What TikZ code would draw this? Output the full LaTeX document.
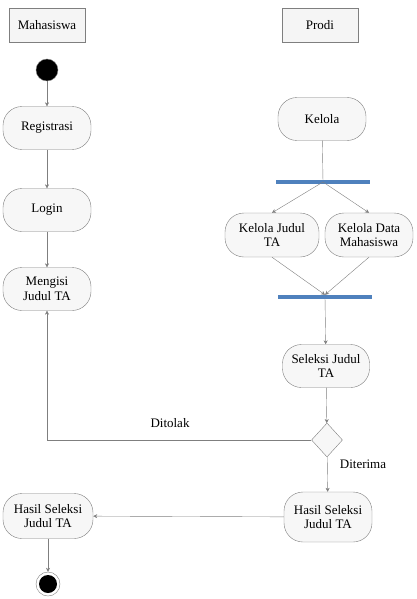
\documentclass[tikz,border=0pt]{standalone}
\usepackage{fontspec}
\setmainfont{Liberation Serif}
\usetikzlibrary{arrows.meta,shapes.geometric}
\definecolor{garis}{HTML}{7F7F7F}
\definecolor{batang}{HTML}{4F81BD}
\tikzset{
  lane/.style={draw=garis,fill=gray!8,minimum width=76pt,minimum height=34pt,inner sep=1pt,font=\fontsize{13}{14}\selectfont},
  aksi/.style={draw=garis,fill=gray!6,rounded corners=19pt,minimum width=88pt,minimum height=43pt,align=center,inner sep=1pt,font=\fontsize{13}{14.5}\selectfont},
  batang/.style={fill=batang,minimum height=4pt,inner sep=0pt},
  panah/.style={draw=garis,-{Stealth[length=4pt,width=4pt]}},
  garis/.style={draw=garis},
  label/.style={font=\fontsize{13}{14}\selectfont}
}
\begin{document}
\begin{tikzpicture}[x=1pt,y=-1pt]
        \useasboundingbox (0,0) rectangle (416,599);

        % 泳道
        \node[lane] (mhs) at (47,25) {Mahasiswa};
        \node[lane] (prodi) at (320,25) {Prodi};

        % 起点
        \node[circle,fill=black,draw=garis,minimum size=22pt,inner sep=0pt] (mulai) at (47,70) {};

        % 活动
        \node[aksi] (registrasi) at (47,128) {Registrasi};
        \node[aksi] (login) at (47,210) {Login};
        \node[aksi] (mengisi) at (47,289) {Mengisi\\Judul TA};
        \node[aksi] (kelola) at (322,119) {Kelola};
        \node[aksi,minimum width=94pt,minimum height=44pt] (kjudul) at (272,235) {Kelola Judul\\TA};
        \node[aksi,minimum height=44pt] (kdata) at (369,235) {Kelola Data\\Mahasiswa};
        \node[aksi,minimum width=87pt] (seleksi) at (326,366) {Seleksi Judul\\TA};
        \node[aksi,minimum height=50pt] (hasilp) at (328,517) {Hasil Seleksi\\Judul TA};
        \node[aksi,minimum width=90pt,minimum height=45pt] (hasilm) at (48,516) {Hasil Seleksi\\Judul TA};

        % 分叉和汇合
        \node[batang,minimum width=94pt] (fork) at (323,182) {};
        \node[batang,minimum width=94pt] (join) at (325,297) {};

        % 判断
        \node[diamond,draw=garis,fill=gray!6,minimum width=31pt,minimum height=34pt,inner sep=0pt] (cek) at (327,440) {};

        % 终点
        \node[circle,draw=garis,fill=white,minimum size=24pt,inner sep=0pt,
              path picture={\fill[black] (path picture bounding box.center) circle (9pt);}] (selesai) at (48,584) {};

        % 连线
        \draw[panah] (mulai) -- (registrasi);
        \draw[panah] (registrasi) -- (login);
        \draw[panah] (login) -- (mengisi);
        \draw[garis] (kelola) -- (fork);
        \draw[panah] (fork.center) -- (kjudul.north);
        \draw[panah] (fork.center) -- (kdata.north);
        \draw[panah] (kjudul.south) -- (join.north);
        \draw[panah] (kdata.south) -- (join.north);
        \draw[panah] (join) -- (seleksi);
        \draw[panah] (seleksi) -- (cek);
        \draw[panah] (cek) -- (hasilp);
        \draw[panah] (cek.west) -| (mengisi.south);
        \draw[panah] (hasilp) -- (hasilm);
        \draw[panah] (hasilm) -- (selesai);

        % 标签
        \node[label] (ditolak) at (170,423) {Ditolak};
        \node[label] (diterima) at (363,464) {Diterima};
\end{tikzpicture}
\end{document}
